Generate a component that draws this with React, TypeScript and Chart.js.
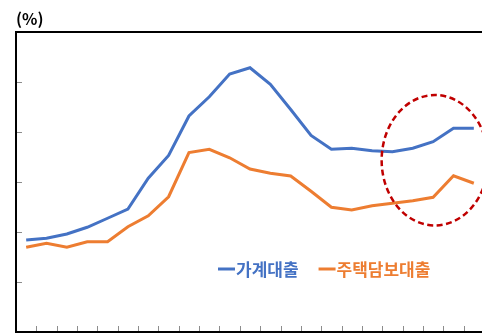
import { useEffect, useRef } from "react";
import { Chart, registerables } from "chart.js";

Chart.register(...registerables);

// Quarterly periods on the horizontal axis (labels are not drawn)
const periods: string[] = [
  "14.1Q", "14.2Q", "14.3Q", "14.4Q",
  "15.1Q", "15.2Q", "15.3Q", "15.4Q",
  "16.1Q", "16.2Q", "16.3Q", "16.4Q",
  "17.1Q", "17.2Q", "17.3Q", "17.4Q",
  "18.1Q", "18.2Q", "18.3Q", "18.4Q",
  "19.1Q", "19.2Q", "19.3Q",
];

// 가계대출 growth rate (%)
const householdLoans: number[] = [
  3.68, 3.75, 3.92, 4.19, 4.55, 4.92, 6.15, 7.06, 8.64, 9.41, 10.32, 10.57,
  9.91, 8.9, 7.86, 7.31, 7.35, 7.25, 7.21, 7.35, 7.61, 8.15, 8.15,
];

// 주택담보대출 growth rate (%)
const mortgageLoans: number[] = [
  3.39, 3.55, 3.39, 3.61, 3.61, 4.21, 4.65, 5.41, 7.18, 7.31, 6.97, 6.52,
  6.35, 6.24, 5.63, 4.99, 4.88, 5.05, 5.15, 5.25, 5.39, 6.25, 5.95,
];

const seriesLabels: string[] = ["가계대출", "주택담보대출"];
const seriesColors: string[] = ["#4472C4", "#ED7D31"];

// Value axis range and tick values (tick labels hidden)
const yMin = 0;
const yMax = 12;
const yTickValues: number[] = [2, 4, 6, 8, 10];

const unitLabel = "(%)";

// Highlight ring around the most recent quarters (category index / value units)
const highlightCenterIndex = 20.09;
const highlightCenterValue = 6.87;
const highlightHalfWidth = 2.62;
const highlightHalfHeight = 2.61;

const FONT = '"Noto Sans CJK KR", "Noto Sans", sans-serif';

const decorations = {
  id: "decorations",
  afterDatasetsDraw(chart: any) {
    const { ctx, chartArea, scales } = chart;
    const x = scales.x;
    const y = scales.y;

    // highlight ring
    const cx = x.getPixelForValue(highlightCenterIndex);
    const cy = y.getPixelForValue(highlightCenterValue);
    const rx = Math.abs(
      x.getPixelForValue(highlightCenterIndex + highlightHalfWidth) - cx
    );
    const ry = Math.abs(
      y.getPixelForValue(highlightCenterValue + highlightHalfHeight) - cy
    );
    ctx.save();
    ctx.beginPath();
    ctx.ellipse(cx, cy, rx, ry, 0, 0, Math.PI * 2);
    ctx.setLineDash([6, 3.5]);
    ctx.lineWidth = 2.5;
    ctx.strokeStyle = "#C00000";
    ctx.stroke();
    ctx.restore();
  },
  afterDraw(chart: any) {
    const { ctx, chartArea, scales } = chart;
    const x = scales.x;
    const y = scales.y;
    ctx.save();

    // top frame line
    ctx.strokeStyle = "#000";
    ctx.lineWidth = 2;
    ctx.beginPath();
    ctx.moveTo(chartArea.left - 1, chartArea.top);
    ctx.lineTo(chartArea.right + 20, chartArea.top);
    ctx.stroke();

    // inward tick marks on the value axis
    ctx.strokeStyle = "#8c8c8c";
    ctx.lineWidth = 1;
    for (const v of yTickValues) {
      const py = Math.round(y.getPixelForValue(v)) + 0.5;
      ctx.beginPath();
      ctx.moveTo(chartArea.left + 1, py);
      ctx.lineTo(chartArea.left + 6, py);
      ctx.stroke();
    }

    // tick marks between categories on the bottom axis
    for (let i = 1; i < periods.length + 1; i++) {
      const px = Math.round(x.getPixelForValue(i - 0.5)) + 0.5;
      ctx.beginPath();
      ctx.moveTo(px, chartArea.bottom - 1);
      ctx.lineTo(px, chartArea.bottom - 6);
      ctx.stroke();
    }

    // unit label
    ctx.fillStyle = "#000";
    ctx.font = `bold 16px ${FONT}`;
    ctx.textBaseline = "middle";
    ctx.textAlign = "left";
    ctx.fillText(unitLabel, chartArea.left, 19);

    // legend
    let lx = chartArea.left + 202;
    const ly = chartArea.bottom - 63;
    ctx.font = `bold 17px ${FONT}`;
    chart.data.datasets.forEach((ds: any) => {
      ctx.strokeStyle = ds.borderColor;
      ctx.lineWidth = 3;
      ctx.beginPath();
      ctx.moveTo(lx, ly);
      ctx.lineTo(lx + 17, ly);
      ctx.stroke();
      ctx.fillStyle = ds.borderColor;
      ctx.fillText(ds.label, lx + 18, ly + 1);
      lx += 18 + ctx.measureText(ds.label).width + 20;
    });

    ctx.restore();
  },
};

export default function App() {
  const canvasRef = useRef<HTMLCanvasElement | null>(null);

  useEffect(() => {
    if (!canvasRef.current) return;
    const chart = new Chart(canvasRef.current, {
      type: "line",
      data: {
        labels: periods,
        datasets: [
          {
            label: seriesLabels[0],
            data: householdLoans,
            borderColor: seriesColors[0],
            backgroundColor: seriesColors[0],
            borderWidth: 3,
            pointRadius: 0,
            tension: 0,
          },
          {
            label: seriesLabels[1],
            data: mortgageLoans,
            borderColor: seriesColors[1],
            backgroundColor: seriesColors[1],
            borderWidth: 3,
            pointRadius: 0,
            tension: 0,
          },
        ],
      },
      options: {
        responsive: false,
        animation: false,
        events: [],
        layout: { padding: { left: 16, top: 32, right: 16, bottom: 4 } },
        plugins: {
          legend: { display: false },
          tooltip: { enabled: false },
          title: { display: false },
        },
        scales: {
          x: {
            offset: true,
            grid: { display: false, drawTicks: false, tickLength: 0 },
            ticks: { display: false },
            border: { display: true, color: "#000", width: 2 },
          },
          y: {
            min: yMin,
            max: yMax,
            grid: { display: false, drawTicks: false, tickLength: 0 },
            ticks: { display: false, stepSize: 2 },
            border: { display: true, color: "#000", width: 2 },
          },
        },
      },
      plugins: [decorations],
    });
    return () => chart.destroy();
  }, []);

  return (
    <div
      style={{
        position: "fixed",
        left: 0,
        top: 0,
        width: 482,
        height: 336,
        overflow: "hidden",
        background: "#fff",
      }}
    >
      <canvas ref={canvasRef} width={500} height={336} style={{ display: "block" }} />
    </div>
  );
}
